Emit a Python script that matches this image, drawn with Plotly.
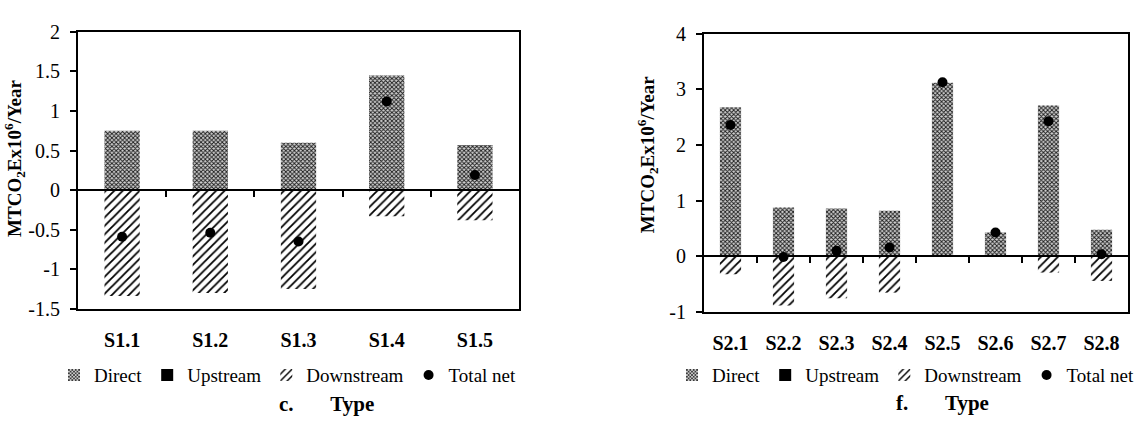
import plotly.graph_objects as go

# ---------------- data ----------------
cats_c = ["S1.1", "S1.2", "S1.3", "S1.4", "S1.5"]
direct_c = [0.75, 0.75, 0.60, 1.45, 0.57]
upstream_c = [0.0, 0.0, 0.0, 0.0, 0.0]
downstream_c = [-1.34, -1.30, -1.25, -0.33, -0.38]
total_c = [-0.59, -0.54, -0.65, 1.12, 0.19]

cats_f = ["S2.1", "S2.2", "S2.3", "S2.4", "S2.5", "S2.6", "S2.7", "S2.8"]
direct_f = [2.68, 0.88, 0.86, 0.82, 3.12, 0.43, 2.71, 0.48]
upstream_f = [0.0, 0.0, 0.0, 0.0, 0.0, 0.0, 0.0, 0.0]
downstream_f = [-0.32, -0.88, -0.75, -0.65, 0.0, 0.0, -0.29, -0.44]
total_f = [2.36, -0.01, 0.10, 0.16, 3.13, 0.43, 2.43, 0.04]

yticks_c = [-1.5, -1, -0.5, 0, 0.5, 1, 1.5, 2]
yticks_f = [-1, 0, 1, 2, 3, 4]

FONT = "Liberation Serif, Times New Roman, serif"
W, H = 1141, 426

fig = go.Figure()

def add_panel(cats, direct, upstream, downstream, total, xa, ya, leg, xzero):
    fig.add_trace(go.Bar(
        x=cats, y=direct, name="Direct", xaxis=xa, yaxis=ya, legend=leg,
        marker=dict(color="white", line=dict(width=0),
                    pattern=dict(shape="x", size=3, solidity=0.5,
                                 fgcolor="#1a1a1a", bgcolor="#d0d0d0", fillmode="replace")),
    ))
    fig.add_trace(go.Bar(
        x=cats, y=upstream, name="Upstream", xaxis=xa, yaxis=ya, legend=leg,
        marker=dict(color="black", line=dict(width=0)),
    ))
    fig.add_trace(go.Bar(
        x=cats, y=downstream, name="Downstream", xaxis=xa, yaxis=ya, legend=leg,
        marker=dict(color="white", line=dict(width=0),
                    pattern=dict(shape="/", size=6, solidity=0.3,
                                 fgcolor="black", bgcolor="white", fillmode="replace")),
    ))
    fig.add_trace(go.Scatter(
        x=cats, y=total, name="Total net", mode="markers", xaxis=xa, yaxis=ya, legend=leg,
        marker=dict(color="black", size=10, symbol="circle"),
    ))
    # invisible helper trace so the zero-line tick axis is drawn
    fig.add_trace(go.Scatter(
        x=list(range(len(cats))), y=total, mode="markers", xaxis=xzero, yaxis=ya,
        marker=dict(opacity=0, size=1), showlegend=False, hoverinfo="skip",
    ))

add_panel(cats_c, direct_c, upstream_c, downstream_c, total_c, "x", "y", "legend", "x3")
add_panel(cats_f, direct_f, upstream_f, downstream_f, total_f, "x2", "y2", "legend2", "x4")

# geometry (paper fractions)
xdom_c = [78 / W, 519 / W]
xdom_f = [704 / W, 1128 / W]
ydom_c = [1 - 314 / H, 1 - 22 / H]
ydom_f = [1 - 317.5 / H, 1 - 24 / H]
yr_c = [-1.5, 2]
yr_f = [-1, 4]

def zero_pos(dom, rng):
    return dom[0] + (0 - rng[0]) / (rng[1] - rng[0]) * (dom[1] - dom[0])

tickfont = dict(family=FONT, size=20, color="black")
boldfont = dict(family=FONT, size=21, color="black", weight="bold")
titlefont = dict(family=FONT, size=19, color="black", weight="bold")

def xaxis_main(dom, anchor, n, standoff):
    return dict(domain=dom, anchor=anchor, type="category", range=[-0.5, n - 0.5],
                showline=True, linecolor="black", linewidth=2, mirror=True,
                ticks="", showgrid=False, zeroline=False, ticklabelstandoff=standoff,
                tickfont=dict(family=FONT, size=20, color="black", weight="bold"))

def xaxis_zero(overlay, pos, n, dom):
    return dict(overlaying=overlay, anchor="free", position=pos, type="linear",
                domain=dom,
                range=[-0.5, n - 0.5], tickvals=[i + 0.5 for i in range(n - 1)],
                ticks="outside", ticklen=6, tickwidth=1.5, tickcolor="black",
                showticklabels=False, showline=True, linecolor="black", linewidth=1.5,
                showgrid=False, zeroline=False, side="bottom")

def yaxis_main(dom, anchor, rng, tv):
    return dict(domain=dom, anchor=anchor, range=rng, tickvals=tv,
                ticktext=[("%g" % v) for v in tv],
                ticks="outside", ticklen=6, tickwidth=1.5, tickcolor="black",
                ticklabelstandoff=6,
                showline=True, linecolor="black", linewidth=2, mirror=True,
                showgrid=False, zeroline=True, zerolinecolor="black", zerolinewidth=1.5,
                tickfont=tickfont)

legfont = dict(family=FONT, size=19, color="black")

fig.update_layout(
    width=W, height=H,
    margin=dict(l=0, r=0, t=0, b=0),
    paper_bgcolor="white", plot_bgcolor="white",
    barmode="relative", bargap=0.6,
    font=dict(family=FONT, size=20, color="black"),
    xaxis=xaxis_main(xdom_c, "y", len(cats_c), 12),
    yaxis=yaxis_main(ydom_c, "x", yr_c, yticks_c),
    xaxis2=xaxis_main(xdom_f, "y2", len(cats_f), 12),
    yaxis2=yaxis_main(ydom_f, "x2", yr_f, yticks_f),
    xaxis3=xaxis_zero("x", zero_pos(ydom_c, yr_c), len(cats_c), xdom_c),
    xaxis4=xaxis_zero("x2", zero_pos(ydom_f, yr_f), len(cats_f), xdom_f),
    legend=dict(orientation="h", x=288 / W, xanchor="center", y=1 - 384 / H, yanchor="middle",
                font=legfont, bgcolor="rgba(0,0,0,0)", itemwidth=30, tracegroupgap=0),
    legend2=dict(orientation="h", x=906 / W, xanchor="center", y=1 - 384 / H, yanchor="middle",
                 font=legfont, bgcolor="rgba(0,0,0,0)", itemwidth=30, tracegroupgap=0),
    showlegend=True,
    annotations=[
        dict(text="c.&nbsp;&nbsp;&nbsp;&nbsp;&nbsp;&nbsp;&nbsp;Type", xref="paper", yref="paper",
             x=326 / W, y=1 - 414 / H, xanchor="center", yanchor="middle", showarrow=False,
             font=boldfont),
        dict(text="f.&nbsp;&nbsp;&nbsp;&nbsp;&nbsp;&nbsp;&nbsp;Type", xref="paper", yref="paper",
             x=942 / W, y=1 - 413 / H, xanchor="center", yanchor="middle", showarrow=False,
             font=boldfont),
        dict(text="MTCO<sub>2</sub>Ex10<sup>6</sup>/Year", xref="paper", yref="paper",
             x=15 / W, y=1 - 156 / H, xanchor="center", yanchor="middle", textangle=-90,
             showarrow=False, font=titlefont),
        dict(text="MTCO<sub>2</sub>Ex10<sup>6</sup>/Year", xref="paper", yref="paper",
             x=647 / W, y=1 - 152 / H, xanchor="center", yanchor="middle", textangle=-90,
             showarrow=False, font=titlefont),
    ],
)

fig.write_html("out.html")
